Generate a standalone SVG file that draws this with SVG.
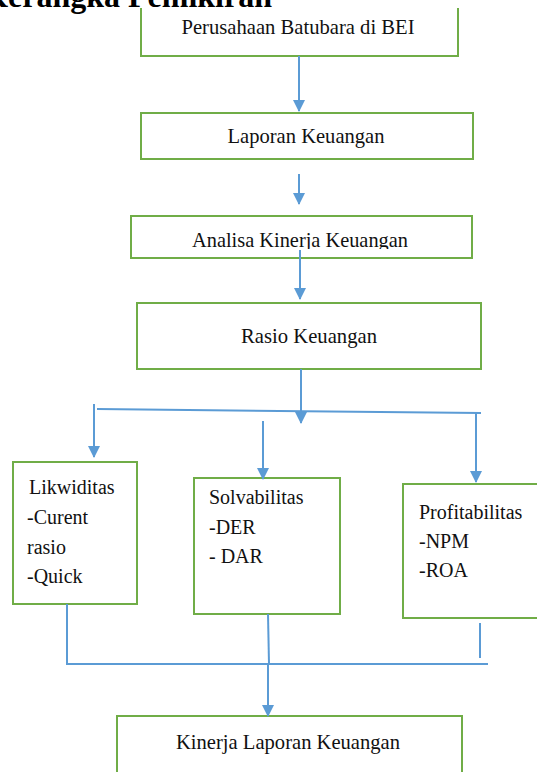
<svg xmlns="http://www.w3.org/2000/svg" width="537" height="772" viewBox="0 0 537 772">
<style>
.box{fill:#fff;stroke:#70AD47;stroke-width:2}
.t{font-family:"Liberation Serif","Times New Roman",serif;font-size:22px;fill:#111}
.s{font-family:"Liberation Serif","Times New Roman",serif;font-size:20px;fill:#111}
.c{fill:none;stroke:#5B9BD5;stroke-width:2}
.title{font-family:"Liberation Serif","Times New Roman",serif;font-size:32px;font-weight:bold;fill:#000}
</style>
<defs>
<marker id="ah" markerUnits="userSpaceOnUse" markerWidth="12" markerHeight="14" refX="11" refY="6" orient="auto">
<path d="M0,0 L12,6 L0,12 Z" fill="#5B9BD5"/>
</marker>
<clipPath id="clip3"><rect x="131" y="216" width="341" height="33"/></clipPath>
</defs>
<rect width="537" height="772" fill="#fff"/>
<text class="title" x="272" y="7" text-anchor="end">Kerangka Pemikiran</text>

<g id="n1">
<path class="box" d="M141,8 V56 H458 V8"/>
<text class="t" x="298" y="34" text-anchor="middle" textLength="233" lengthAdjust="spacingAndGlyphs">Perusahaan Batubara di BEI</text>
</g>
<g id="n2">
<rect class="box" x="141" y="113" width="332" height="46"/>
<text class="t" x="306" y="143" text-anchor="middle" textLength="157" lengthAdjust="spacingAndGlyphs">Laporan Keuangan</text>
</g>
<g id="n3">
<rect class="box" x="131" y="216" width="341" height="42"/>
<text class="t" x="300" y="247" text-anchor="middle" textLength="216" lengthAdjust="spacingAndGlyphs" clip-path="url(#clip3)">Analisa Kinerja Keuangan</text>
</g>
<g id="n4">
<rect class="box" x="137" y="303" width="344" height="66"/>
<text class="t" x="309" y="343" text-anchor="middle" textLength="136" lengthAdjust="spacingAndGlyphs">Rasio Keuangan</text>
</g>
<g id="n5">
<rect class="box" x="13" y="462" width="124" height="142"/>
<text class="s" x="29" y="494">Likwiditas</text>
<text class="s" x="27" y="524">-Curent</text>
<text class="s" x="27" y="554">rasio</text>
<text class="s" x="27" y="583">-Quick</text>
</g>
<g id="n6">
<rect class="box" x="194" y="478" width="146" height="136"/>
<text class="s" x="209" y="504">Solvabilitas</text>
<text class="s" x="209" y="534">-DER</text>
<text class="s" x="209" y="563">- DAR</text>
</g>
<g id="n7">
<rect class="box" x="403" y="484" width="150" height="134"/>
<text class="s" x="419" y="519">Profitabilitas</text>
<text class="s" x="419" y="548">-NPM</text>
<text class="s" x="419" y="577">-ROA</text>
</g>
<g id="n8">
<rect class="box" x="117" y="716" width="345" height="70"/>
<text class="t" x="288" y="749" text-anchor="middle" textLength="224" lengthAdjust="spacingAndGlyphs">Kinerja Laporan Keuangan</text>
</g>

<g id="connectors">
<line class="c" x1="299" y1="56" x2="299" y2="111" marker-end="url(#ah)"/>
<line class="c" x1="299" y1="174" x2="299" y2="204" marker-end="url(#ah)"/>
<line class="c" x1="300" y1="250" x2="300" y2="299" marker-end="url(#ah)"/>
<line class="c" x1="301" y1="369" x2="301" y2="423" marker-end="url(#ah)"/>
<line class="c" x1="97" y1="409" x2="481" y2="413"/>
<line class="c" x1="94" y1="404" x2="94" y2="457" marker-end="url(#ah)"/>
<line class="c" x1="263" y1="421" x2="263" y2="479" marker-end="url(#ah)"/>
<line class="c" x1="476" y1="413" x2="476" y2="482" marker-end="url(#ah)"/>
<path class="c" d="M67,604 V664 H488"/>
<line class="c" x1="268" y1="614" x2="269" y2="664"/>
<line class="c" x1="480" y1="623" x2="480" y2="658"/>
<line class="c" x1="268" y1="664" x2="268" y2="716" marker-end="url(#ah)"/>
</g>
</svg>
